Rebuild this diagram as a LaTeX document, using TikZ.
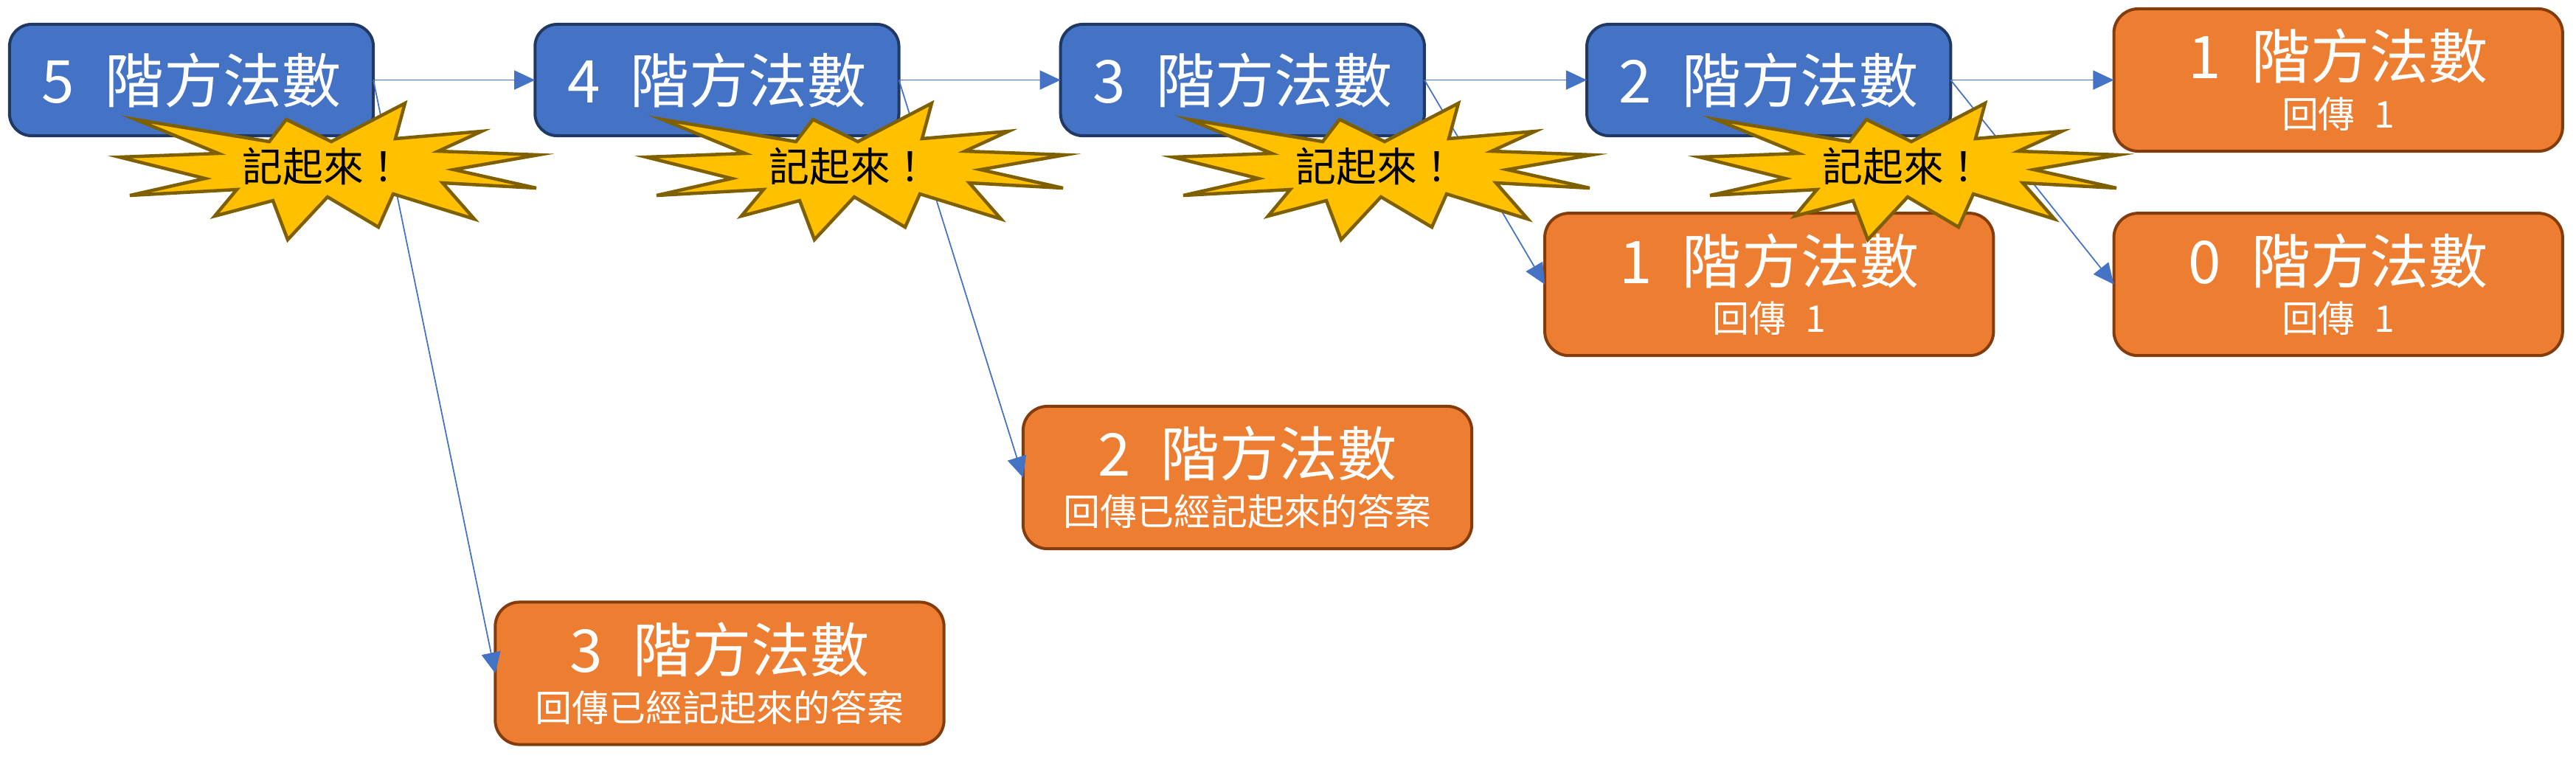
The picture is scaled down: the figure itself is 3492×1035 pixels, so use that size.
\documentclass[tikz,border=0pt]{standalone}
\usepackage{fontspec}
\setmainfont{Noto Sans CJK TC}[WordSpace=2.3]
\usetikzlibrary{positioning,arrows.meta}

\definecolor{callblue}{HTML}{4472C4}
\definecolor{callline}{HTML}{203864}
\definecolor{doneorange}{HTML}{ED7D31}
\definecolor{doneline}{HTML}{843C0C}
\definecolor{burstgold}{HTML}{FFC000}
\definecolor{burstline}{HTML}{7F6000}

\begin{document}
\begin{tikzpicture}[x=0.01cm,y=-0.01cm,
  call/.style={draw=callline,fill=callblue,line width=0.04cm,rounded corners=0.3cm,
    minimum width=4.93cm,minimum height=1.51cm,outer sep=0pt,text=white,
    font=\fontsize{22.76}{27}\selectfont},
  done/.style={draw=doneline,fill=doneorange,line width=0.04cm,rounded corners=0.33cm,
    minimum width=6.08cm,minimum height=1.93cm,outer sep=0pt,text=white,align=center,
    font=\fontsize{22.76}{19}\selectfont},
  link/.style={draw=callblue,line width=0.5pt,-{Triangle[length=8pt,width=7.4pt]}},
  burst/.style={draw=burstline,fill=burstgold,line width=0.045cm,line join=miter},
  note/.style={font=\fontsize{15.6}{18}\selectfont,text=black,inner sep=0pt}]

        \useasboundingbox (0,0) rectangle (3492,1035);

        % the calls that are still working
        \node[call] (call5) at (259.5,108.5) {5 階方法數};
        \node[call] (call4) [right = 2.19cm of call5] {4 階方法數};
        \node[call] (call3) [right = 2.19cm of call4] {3 階方法數};
        \node[call] (call2) [right = 2.2cm of call3] {2 階方法數};

        % the calls that give an answer back
        \node[done] (ret1) [right = 2.21cm of call2] {1 階方法數\\{\fontsize{14.2}{17}\selectfont 回傳 1}};
        \node[done] (ret0) [below = 0.84cm of ret1] {0 階方法數\\{\fontsize{14.2}{17}\selectfont 回傳 1}};
        \node[done] (ret1b) [left = 1.63cm of ret0] {1 階方法數\\{\fontsize{14.2}{17}\selectfont 回傳 1}};
        \node[done] (memo2) at (1691,647.5) {2 階方法數\\{\fontsize{14.2}{17}\selectfont 回傳已經記起來的答案}};
        \node[done] (memo3) at (975.5,913) {3 階方法數\\{\fontsize{14.2}{17}\selectfont 回傳已經記起來的答案}};

        \draw[link] (call5.east) -- (call4.west);
        \draw[link] (call5.east) -- (memo3.west);
        \draw[link] (call4.east) -- (call3.west);
        \draw[link] (call4.east) -- (memo2.west);
        \draw[link] (call3.east) -- (call2.west);
        \draw[link] (call3.east) -- (ret1b.west);
        \draw[link] (call2.east) -- (ret1.west);
        \draw[link] (call2.east) -- (ret0.west);

        % one burst under each blue box
        \foreach \k in {0,1,2,3}{
          \begin{scope}[shift={(714*\k,0)}]
            \draw[burst] (184,162) -- (296,208) -- (162,213) -- (278,242) -- (176,265)
              -- (321,257) -- (291,293) -- (370,272) -- (390,325) -- (444,267)
              -- (513,308) -- (533,263) -- (643,297) -- (600,248) -- (727,255)
              -- (615,230) -- (730,210) -- (594,205) -- (653,178) -- (536,188)
              -- (549,140) -- (449,192) -- (388,162) -- (365,192) -- cycle;
            \node[note] (burst\k) at (438,226) {記起來！};
          \end{scope}
        }
      \end{tikzpicture}
\end{document}
